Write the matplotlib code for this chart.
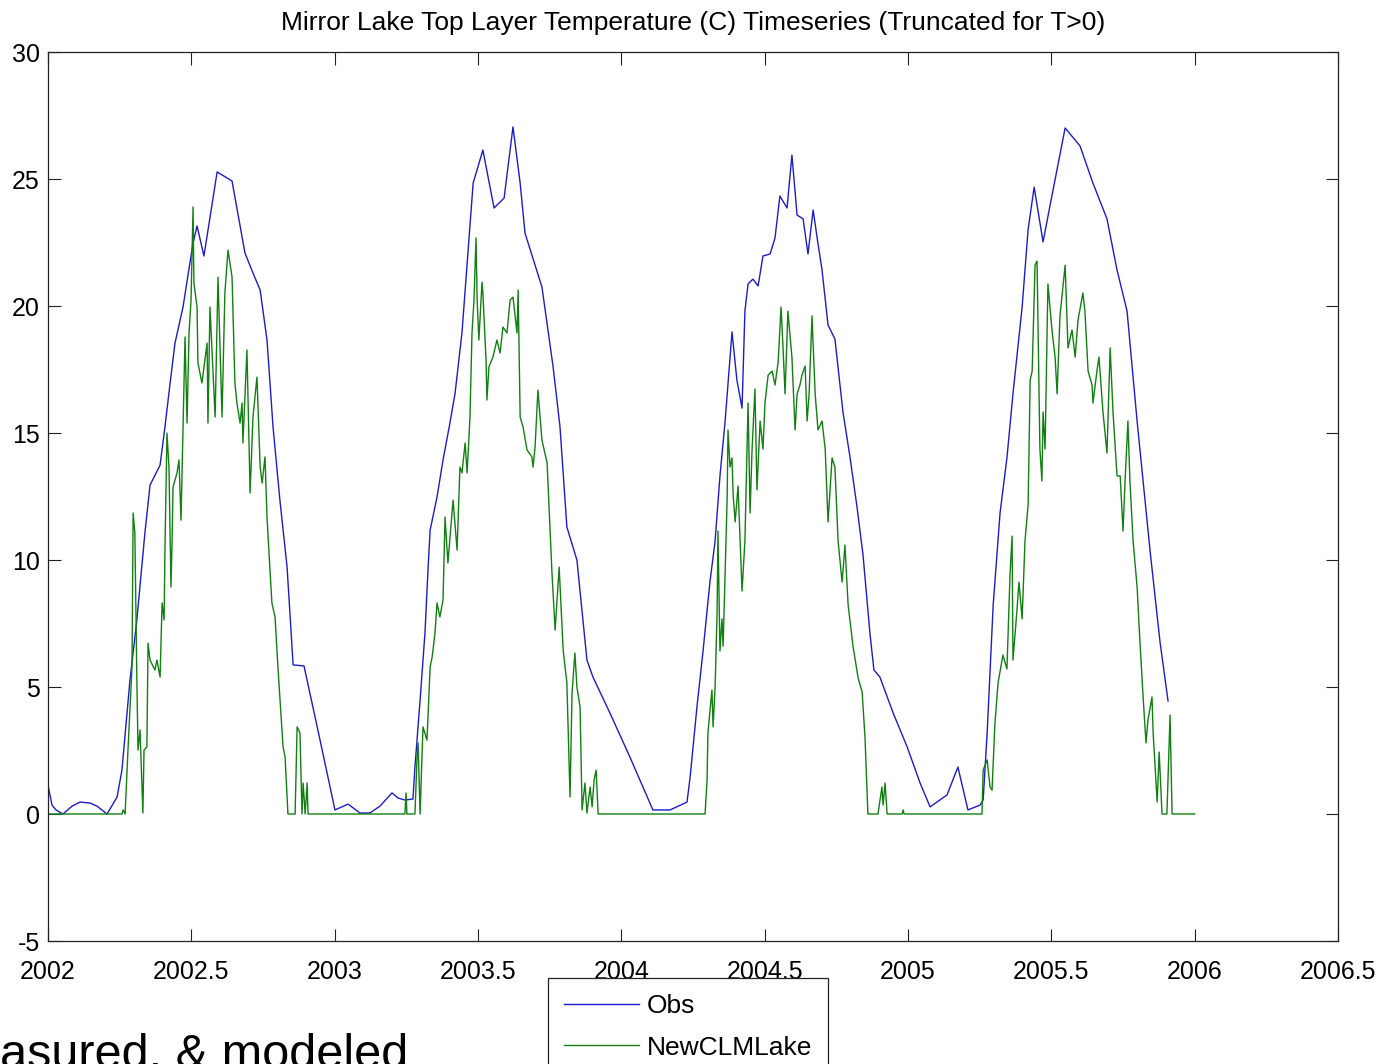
import matplotlib
matplotlib.use("Agg")
import matplotlib.pyplot as plt
from matplotlib.ticker import FixedLocator, FixedFormatter

plt.rcParams["font.family"] = ["Liberation Sans", "DejaVu Sans"]

# observed top layer temperature (decimal year, deg C)
obs_year = [
    2002.000, 2002.014, 2002.028, 2002.052, 2002.084, 2002.112, 2002.147, 2002.171,
    2002.206, 2002.241, 2002.258, 2002.286, 2002.310, 2002.338, 2002.356, 2002.391,
    2002.408, 2002.426, 2002.443, 2002.471, 2002.506, 2002.520, 2002.544, 2002.590,
    2002.642, 2002.687, 2002.715, 2002.740, 2002.764, 2002.785, 2002.809, 2002.834,
    2002.855, 2002.893, 2002.949, 2003.001, 2003.047, 2003.088, 2003.123, 2003.158,
    2003.200, 2003.221, 2003.245, 2003.273, 2003.280, 2003.298, 2003.315, 2003.326,
    2003.333, 2003.357, 2003.378, 2003.402, 2003.420, 2003.444, 2003.465, 2003.483,
    2003.517, 2003.556, 2003.591, 2003.622, 2003.647, 2003.664, 2003.723, 2003.762,
    2003.786, 2003.810, 2003.845, 2003.880, 2003.901, 2003.960, 2004.030, 2004.110,
    2004.170, 2004.229, 2004.240, 2004.264, 2004.285, 2004.309, 2004.327, 2004.344,
    2004.362, 2004.386, 2004.403, 2004.421, 2004.431, 2004.442, 2004.459, 2004.477,
    2004.494, 2004.519, 2004.536, 2004.553, 2004.578, 2004.595, 2004.613, 2004.634,
    2004.651, 2004.669, 2004.683, 2004.700, 2004.721, 2004.745, 2004.773, 2004.798,
    2004.822, 2004.843, 2004.867, 2004.881, 2004.902, 2004.948, 2004.997, 2005.042,
    2005.077, 2005.136, 2005.174, 2005.209, 2005.251, 2005.262, 2005.276, 2005.297,
    2005.321, 2005.345, 2005.366, 2005.398, 2005.419, 2005.440, 2005.471, 2005.495,
    2005.548, 2005.600, 2005.645, 2005.694, 2005.729, 2005.764, 2005.799, 2005.844,
    2005.879, 2005.907,
]
obs_temp = [
    1.14, 0.35, 0.16, 0.00, 0.31, 0.47, 0.43, 0.31,
    0.00, 0.67, 1.73, 5.28, 7.64, 11.06, 12.95, 13.74,
    15.24, 16.97, 18.54, 19.96, 22.48, 23.15, 21.97, 25.28,
    24.92, 22.09, 21.30, 20.63, 18.66, 15.24, 12.36, 9.72,
    5.87, 5.83, 2.91, 0.16, 0.39, 0.04, 0.04, 0.31,
    0.83, 0.63, 0.55, 0.59, 1.85, 4.49, 7.13, 9.72,
    11.18, 12.48, 13.94, 15.39, 16.57, 18.94, 22.09, 24.84,
    26.14, 23.86, 24.25, 27.05, 24.84, 22.87, 20.75, 17.60,
    15.24, 11.30, 10.00, 6.06, 5.39, 3.98, 2.24, 0.16,
    0.16, 0.47, 1.46, 4.25, 6.42, 9.13, 10.75, 13.31,
    15.47, 18.98, 17.09, 15.98, 19.80, 20.87, 21.06, 20.79,
    21.97, 22.05, 22.68, 24.33, 23.86, 25.94, 23.58, 23.43,
    22.05, 23.78, 22.68, 21.42, 19.25, 18.70, 15.83, 14.02,
    12.09, 10.20, 7.13, 5.67, 5.39, 3.98, 2.64, 1.22,
    0.28, 0.75, 1.85, 0.16, 0.35, 0.55, 3.19, 8.23,
    11.85, 14.02, 16.54, 19.96, 23.03, 24.68, 22.52, 23.94,
    27.01, 26.30, 24.84, 23.43, 21.42, 19.80, 15.47, 10.39,
    6.77, 4.45,
]

# NewCLMLake modeled top layer temperature (decimal year, deg C)
mod_year = [
    2002.000, 2002.258, 2002.262, 2002.269, 2002.279, 2002.293, 2002.297, 2002.303,
    2002.310, 2002.314, 2002.321, 2002.331, 2002.335, 2002.345, 2002.349, 2002.356,
    2002.373, 2002.380, 2002.391, 2002.398, 2002.405, 2002.408, 2002.415, 2002.422,
    2002.429, 2002.433, 2002.436, 2002.450, 2002.457, 2002.464, 2002.471, 2002.478,
    2002.485, 2002.492, 2002.499, 2002.506, 2002.509, 2002.520, 2002.523, 2002.537,
    2002.555, 2002.558, 2002.565, 2002.583, 2002.593, 2002.607, 2002.617, 2002.628,
    2002.642, 2002.652, 2002.659, 2002.670, 2002.677, 2002.680, 2002.694, 2002.705,
    2002.715, 2002.729, 2002.740, 2002.747, 2002.757, 2002.764, 2002.767, 2002.781,
    2002.792, 2002.802, 2002.820, 2002.827, 2002.837, 2002.862, 2002.869, 2002.879,
    2002.886, 2002.890, 2002.897, 2002.904, 2002.907, 2003.245, 2003.249, 2003.252,
    2003.280, 2003.287, 2003.291, 2003.298, 2003.308, 2003.322, 2003.333, 2003.340,
    2003.350, 2003.357, 2003.367, 2003.378, 2003.385, 2003.395, 2003.413, 2003.427,
    2003.437, 2003.444, 2003.455, 2003.462, 2003.472, 2003.479, 2003.486, 2003.493,
    2003.497, 2003.503, 2003.514, 2003.517, 2003.528, 2003.531, 2003.538, 2003.552,
    2003.566, 2003.577, 2003.587, 2003.601, 2003.612, 2003.622, 2003.636, 2003.640,
    2003.647, 2003.657, 2003.671, 2003.688, 2003.692, 2003.699, 2003.709, 2003.723,
    2003.741, 2003.758, 2003.769, 2003.783, 2003.797, 2003.810, 2003.821, 2003.828,
    2003.838, 2003.845, 2003.856, 2003.863, 2003.873, 2003.880, 2003.891, 2003.898,
    2003.905, 2003.912, 2003.919, 2004.292, 2004.299, 2004.302, 2004.316, 2004.320,
    2004.327, 2004.334, 2004.337, 2004.344, 2004.351, 2004.355, 2004.369, 2004.372,
    2004.379, 2004.386, 2004.390, 2004.397, 2004.407, 2004.421, 2004.431, 2004.442,
    2004.449, 2004.456, 2004.466, 2004.473, 2004.484, 2004.494, 2004.501, 2004.512,
    2004.526, 2004.536, 2004.547, 2004.557, 2004.564, 2004.571, 2004.581, 2004.595,
    2004.606, 2004.613, 2004.623, 2004.630, 2004.641, 2004.648, 2004.655, 2004.665,
    2004.676, 2004.686, 2004.700, 2004.711, 2004.721, 2004.735, 2004.745, 2004.756,
    2004.770, 2004.780, 2004.791, 2004.808, 2004.826, 2004.840, 2004.850, 2004.860,
    2004.895, 2004.909, 2004.913, 2004.920, 2004.927, 2004.979, 2004.983, 2004.986,
    2005.258, 2005.262, 2005.276, 2005.286, 2005.293, 2005.303, 2005.314, 2005.331,
    2005.345, 2005.356, 2005.363, 2005.366, 2005.380, 2005.387, 2005.398, 2005.408,
    2005.419, 2005.426, 2005.433, 2005.443, 2005.450, 2005.460, 2005.467, 2005.471,
    2005.478, 2005.488, 2005.502, 2005.513, 2005.520, 2005.530, 2005.548, 2005.558,
    2005.572, 2005.583, 2005.593, 2005.610, 2005.617, 2005.628, 2005.642, 2005.645,
    2005.659, 2005.666, 2005.680, 2005.694, 2005.705, 2005.715, 2005.729, 2005.740,
    2005.750, 2005.757, 2005.767, 2005.774, 2005.785, 2005.799, 2005.809, 2005.820,
    2005.830, 2005.837, 2005.851, 2005.855, 2005.869, 2005.876, 2005.886, 2005.903,
    2005.914, 2005.921, 2006.000,
]
mod_temp = [
    0.00, 0.00, 0.16, 0.00, 2.52, 5.79, 11.85, 11.06,
    5.28, 2.52, 3.31, 0.04, 2.52, 2.64, 6.73, 6.06,
    5.67, 6.06, 5.39, 8.31, 7.64, 10.39, 15.00, 13.66,
    8.94, 10.79, 12.87, 13.43, 13.94, 11.57, 15.24, 18.78,
    15.39, 18.94, 20.24, 23.90, 20.91, 19.96, 17.76, 16.97,
    18.54, 15.39, 19.96, 15.63, 21.14, 15.63, 20.51, 22.20,
    21.14, 16.97, 16.18, 15.39, 16.18, 14.61, 18.27, 12.64,
    15.63, 17.20, 13.66, 13.03, 14.06, 11.69, 11.06, 8.31,
    7.76, 5.79, 2.64, 2.24, 0.00, 0.00, 3.43, 3.19,
    0.00, 1.22, 0.00, 1.22, 0.00, 0.00, 0.83, 0.00,
    0.00, 2.13, 2.80, 0.00, 3.43, 2.91, 5.79, 6.18,
    7.13, 8.31, 7.76, 8.43, 11.69, 9.88, 12.36, 10.39,
    13.66, 13.43, 14.61, 13.43, 15.63, 18.94, 20.24, 22.68,
    20.24, 18.66, 20.94, 20.51, 17.87, 16.30, 17.60, 17.99,
    18.66, 18.15, 19.17, 18.94, 20.24, 20.35, 18.94, 20.63,
    15.63, 15.24, 14.33, 14.06, 13.66, 14.45, 16.69, 14.72,
    13.82, 9.49, 7.24, 9.72, 6.46, 5.16, 0.67, 4.76,
    6.34, 5.00, 4.21, 0.16, 1.22, 0.04, 1.06, 0.28,
    1.34, 1.73, 0.00, 0.00, 1.34, 3.19, 4.88, 3.43,
    5.00, 7.91, 11.14, 6.42, 7.68, 6.61, 12.40, 15.12,
    13.66, 14.02, 12.56, 11.50, 12.91, 8.78, 10.75, 16.18,
    11.85, 14.37, 16.73, 12.76, 15.47, 14.37, 16.18, 17.28,
    17.44, 16.89, 17.80, 19.96, 18.35, 16.54, 19.80, 17.99,
    15.12, 16.54, 16.89, 17.28, 17.64, 15.47, 16.54, 19.61,
    16.54, 15.12, 15.47, 14.37, 11.50, 14.02, 13.66, 10.75,
    9.13, 10.59, 8.23, 6.61, 5.35, 4.80, 2.99, 0.00,
    0.00, 1.06, 0.35, 1.22, 0.00, 0.00, 0.16, 0.00,
    0.00, 1.73, 2.13, 1.06, 0.94, 3.54, 5.16, 6.26,
    5.71, 9.49, 10.94, 6.06, 8.03, 9.13, 7.68, 10.75,
    12.20, 17.09, 17.44, 21.61, 21.77, 14.37, 13.11, 15.83,
    14.37, 20.87, 19.06, 17.99, 16.54, 19.61, 21.61, 18.35,
    19.06, 17.99, 19.45, 20.51, 19.80, 17.44, 16.89, 16.18,
    17.44, 17.99, 15.83, 14.21, 18.35, 15.83, 13.31, 13.31,
    11.14, 13.11, 15.47, 13.11, 10.75, 8.94, 6.77, 4.61,
    2.80, 3.70, 4.61, 3.19, 0.47, 2.44, 0.00, 0.00,
    3.90, 0.00, 0.00,
]

x_ticks = [2002, 2002.5, 2003, 2003.5, 2004, 2004.5, 2005, 2005.5, 2006, 2006.5]
x_labels = ["2002", "2002.5", "2003", "2003.5", "2004", "2004.5", "2005", "2005.5", "2006", "2006.5"]
y_ticks = [-5, 0, 5, 10, 15, 20, 25, 30]
y_labels = ["-5", "0", "5", "10", "15", "20", "25", "30"]

fig = plt.figure(figsize=(13.83, 10.64), dpi=100)
ax = fig.add_axes([0.0347, 0.1156, 0.9328, 0.8355])

ax.plot(obs_year, obs_temp, color="#1c1cc8", lw=1.0, label="Obs")
ax.plot(mod_year, mod_temp, color="#118011", lw=1.0, label="NewCLMLake")

ax.set_xlim(2002, 2006.5)
ax.set_ylim(-5, 30)
ax.xaxis.set_major_locator(FixedLocator(x_ticks))
ax.xaxis.set_major_formatter(FixedFormatter(x_labels))
ax.yaxis.set_major_locator(FixedLocator(y_ticks))
ax.yaxis.set_major_formatter(FixedFormatter(y_labels))
ax.tick_params(direction="in", length=9, width=0.8, top=True, right=True,
               labelsize=18, color="#222222")
ax.tick_params(axis="x", pad=14)
ax.tick_params(axis="y", pad=6)
for s in ax.spines.values():
    s.set_linewidth(0.9)
    s.set_color("#222222")

ax.set_title("Mirror Lake Top Layer Temperature (C) Timeseries (Truncated for T>0)",
             fontsize=19, pad=16)

leg = fig.legend(loc="upper left", bbox_to_anchor=(548 / 1383, 1 - 978 / 1064),
                 borderaxespad=0, fontsize=19, handlelength=2.85, handletextpad=0.3,
                 labelspacing=0.67, borderpad=0.6, fancybox=False, framealpha=1,
                 edgecolor="#222222")
leg.get_frame().set_linewidth(0.9)

fig.text(0.0, -0.004, "asured, & modeled", fontsize=35, ha="left", va="baseline")

fig.savefig("out.png", dpi=100)
